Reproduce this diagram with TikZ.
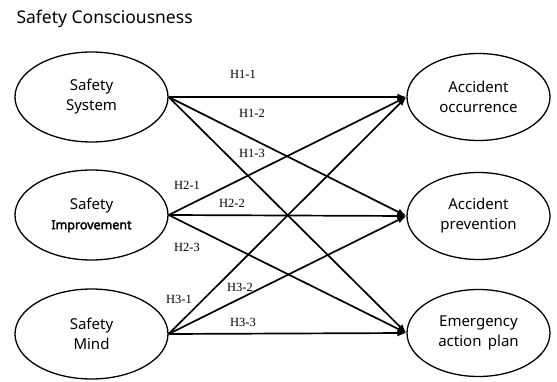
\documentclass[tikz,border=0pt]{standalone}
\usepackage{fontspec}
\setmainfont{Liberation Serif}
\newfontfamily\gothic{Noto Sans}
\newfontfamily\gothicbf{Noto Sans}[FakeBold=2.5]
\usetikzlibrary{shapes.geometric,arrows.meta}

\tikzset{
  factor/.style={ellipse, draw, line width=1.3pt, inner sep=0pt, align=center,
    font=\gothic\fontsize{15}{20}\selectfont},
  cause/.style={factor, minimum width=153pt, minimum height=90pt},
  effect/.style={factor, minimum width=143pt, minimum height=87pt},
  hyp/.style={line width=1.7pt, -{Latex[length=9pt,width=7pt]}},
  hlabel/.style={font=\fontsize{12.5}{13}\selectfont}
}

\begin{document}
\begin{tikzpicture}[x=1pt,y=-1pt]
  \useasboundingbox (0,0) rectangle (557,382);

  \node [anchor=base west, font=\gothic\fontsize{17.5}{20}\selectfont] (title) at (13,24) {Safety Consciousness};

  % independent variables
  \node [cause] (sys)  at (91.5,97)  {Safety\\System};
  \node [cause] (imp)  at (91.5,215) {Safety\\{\gothicbf\fontsize{12.5}{14}\selectfont Improvement}};
  \node [cause] (mind) at (91.5,334) {Safety\\Mind};

  % dependent variables
  \node [effect] (occ)  at (478.5,97)  {Accident\\occurrence};
  \node [effect] (prev) at (478.5,216) {Accident\\prevention};
  \node [effect] (plan) at (478.5,333) {Emergency\\action\ \,plan};

  \foreach \s in {sys,imp,mind}
    \foreach \t in {occ,prev,plan}
      \draw [hyp] (\s.east) -- (\t.west);

  % hypotheses
  \node [hlabel] (h11) at (243,74)  {H1-1};
  \node [hlabel] (h12) at (252,113) {H1-2};
  \node [hlabel] (h13) at (252,153) {H1-3};
  \node [hlabel] (h21) at (187,185) {H2-1};
  \node [hlabel] (h22) at (232,203) {H2-2};
  \node [hlabel] (h23) at (187,247) {H2-3};
  \node [hlabel] (h31) at (179,299) {H3-1};
  \node [hlabel] (h32) at (240,287) {H3-2};
  \node [hlabel] (h33) at (243,322) {H3-3};
\end{tikzpicture}
\end{document}
